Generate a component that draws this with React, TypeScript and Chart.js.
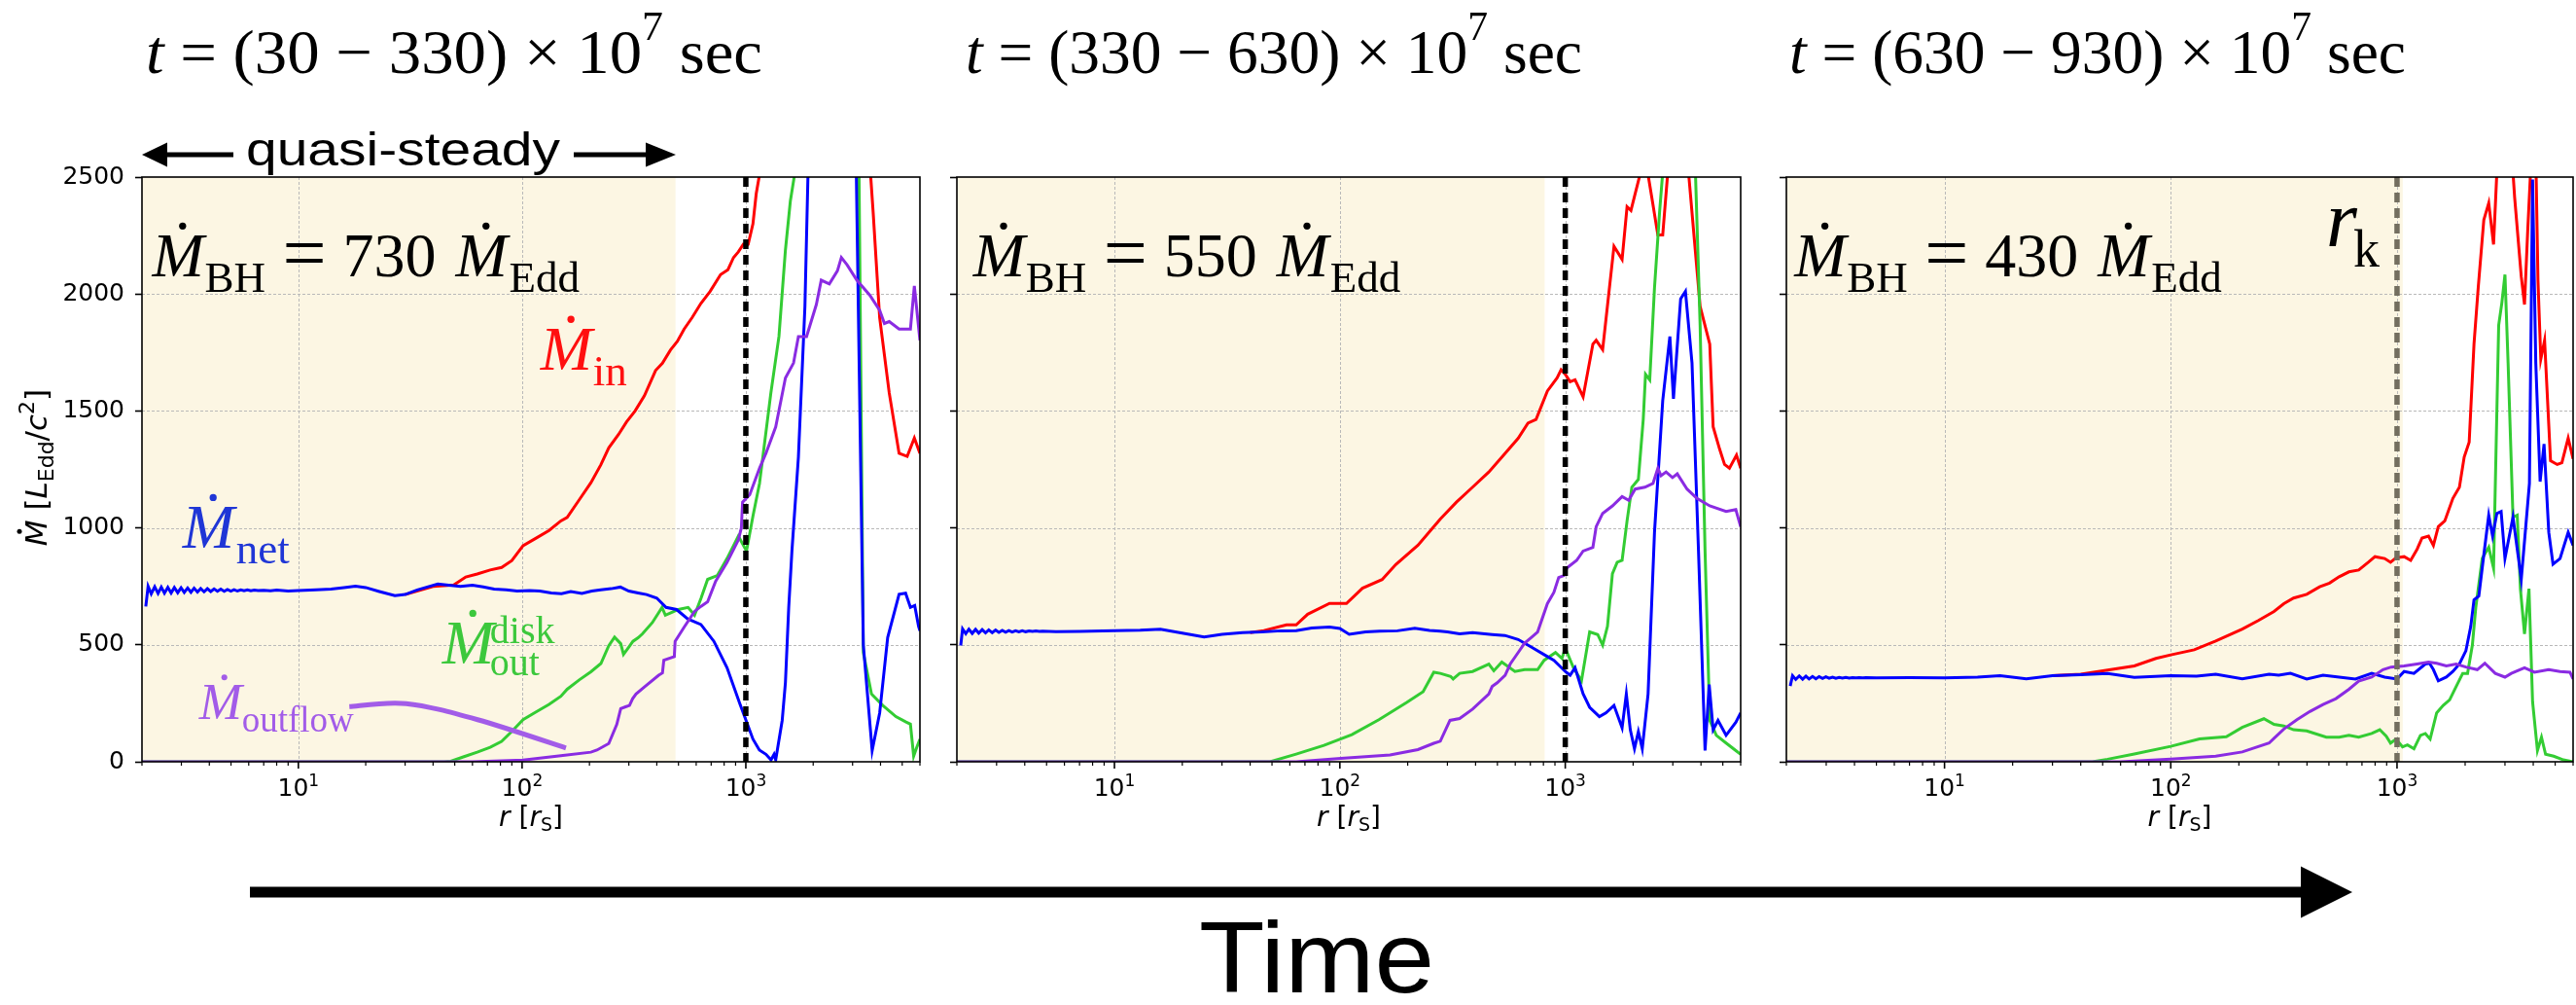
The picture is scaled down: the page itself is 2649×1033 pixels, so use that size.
import React, { useEffect, useRef } from 'react';
import { Chart, registerables } from 'chart.js';

Chart.register(...registerables);

// ---------------- data ----------------
const rMin = 2;
const rMax = 6000;
const mdotMax = 2500;
const yTickValues = [0, 500, 1000, 1500, 2000, 2500];
const yGridValues = [500, 1000, 1500, 2000];
const xGridValues = [10, 100, 1000];
const xTickValues = [2, 3, 4, 5, 6, 7, 8, 9, 10, 20, 30, 40, 50, 60, 70, 80, 90, 100, 200, 300, 400, 500, 600, 700, 800, 900, 1000, 2000, 3000, 4000, 5000, 6000];
const xMajorExponents: Record<number, string> = { 10: '1', 100: '2', 1000: '3' };

const timeRanges = [['30', '330'], ['330', '630'], ['630', '930']];
const bhRates = ['730', '550', '430'];
const quasiSteadyEnd = [485, 810, 1060];
const kRadius = 1000;

// Panel 1  t = (30-330) x 1e7 s
const p1NetR = [2.08, 2.13, 2.2, 2.28, 2.36, 2.44, 2.52, 2.61, 2.7, 2.79, 2.89, 2.99, 3.09, 3.2, 3.31, 3.42, 3.54, 3.66, 3.79, 3.92, 4.06, 4.2, 4.35, 4.5, 4.66, 4.82, 4.99, 5.16, 5.34, 5.53, 5.72, 5.92, 6.13, 6.35, 6.6, 7, 7.5, 8, 9, 10, 12, 14, 16, 18, 20, 23, 27, 30, 34, 38, 42, 47, 53, 60, 67, 75, 85, 95, 108, 120, 135, 150, 165, 185, 205, 225, 250, 275, 300, 330, 360, 400, 440, 490, 550, 630, 720, 824, 940, 1076, 1150, 1230, 1296, 1337, 1360, 1454, 1503, 1555, 1607, 1718, 1837, 1900, 2100, 2400, 2800, 3114, 3351, 3670, 3965, 4305, 4842, 5178, 5441, 5686, 5918, 6000];
const p1NetV = [664, 750, 718, 748, 720, 747, 721, 746, 722, 745, 723, 744, 724, 743, 725, 742, 726, 741, 727, 740, 728, 739, 729, 738, 729, 737, 730, 736, 730, 735, 731, 735, 731, 734, 732, 733, 731, 734, 730, 732, 735, 738, 745, 751, 745, 728, 710, 715, 735, 748, 760, 755, 750, 755, 748, 738, 735, 730, 732, 730, 722, 719, 728, 720, 730, 735, 740, 747, 730, 722, 715, 700, 660, 651, 611, 587, 515, 402, 249, 97, 50, 32, 8, 32, 8, 177, 338, 660, 901, 1303, 1947, 2550, 4200, 4800, 4800, 2550, 499, 48, 209, 531, 716, 721, 660, 668, 579, 560];
const p1InR = [30, 40, 49.5, 56, 63, 72, 81, 90, 101, 115, 132, 149, 159, 180, 203, 225, 244, 270, 293, 320, 352, 395, 424, 460, 494, 530, 576, 630, 692, 771, 832, 881, 926, 974, 1007, 1024, 1076, 1113, 1151, 1170, 1300, 1500, 2000, 2500, 3000, 3500, 3708, 3965, 4375, 4842, 5263, 5665, 6000];
const p1InV = [715, 750, 756, 790, 803, 820, 831, 860, 924, 955, 989, 1030, 1045, 1120, 1193, 1270, 1342, 1400, 1453, 1500, 1565, 1673, 1704, 1760, 1797, 1850, 1900, 1960, 2011, 2083, 2104, 2156, 2180, 2212, 2205, 2212, 2300, 2429, 2510, 2600, 3200, 3600, 4000, 4000, 3600, 2700, 2349, 1898, 1577, 1319, 1306, 1384, 1319];
const p1DiskR = [2, 45, 48, 55, 63, 72, 81, 90, 101, 115, 132, 149, 159, 180, 203, 225, 244, 259, 276, 284, 300, 313, 330, 345, 382, 422, 437, 470, 499, 552, 590, 631, 675, 745, 824, 926, 1007, 1076, 1151, 1294, 1406, 1503, 1581, 1651, 1900, 2200, 2800, 3200, 3351, 3644, 4095, 4686, 5200, 5441, 5625, 5800, 6000];
const p1DiskV = [0, 0, 2, 22, 41, 62, 87, 130, 180, 212, 245, 280, 310, 350, 385, 420, 496, 533, 505, 459, 490, 515, 530, 547, 595, 660, 627, 640, 651, 660, 627, 700, 780, 796, 869, 965, 901, 1050, 1190, 1577, 1818, 2188, 2397, 2510, 3800, 4200, 4200, 2600, 467, 290, 241, 193, 170, 161, 24, 60, 97];
const p1OutflowR = [2, 60, 101, 149, 203, 216, 244, 265, 276, 290, 302, 312, 323, 352, 408, 424, 430, 479, 483, 533, 590, 631, 675, 733, 824, 926, 955, 967, 1041, 1151, 1230, 1360, 1503, 1634, 1718, 1868, 2066, 2173, 2362, 2567, 2673, 2838, 3136, 3583, 3965, 4164, 4375, 4842, 5441, 5665, 6000];
const p1OutflowV = [0, 0, 7, 26, 41, 50, 78, 160, 227, 235, 241, 270, 290, 320, 370, 380, 434, 450, 515, 579, 643, 665, 684, 772, 853, 949, 1000, 1110, 1142, 1255, 1319, 1432, 1641, 1705, 1818, 1818, 1955, 2059, 2043, 2099, 2156, 2124, 2059, 1995, 1930, 1874, 1882, 1850, 1850, 2035, 1802];

// Panel 2  t = (330-630) x 1e7 s
const p2NetR = [2.08, 2.12, 2.19, 2.26, 2.34, 2.42, 2.5, 2.59, 2.68, 2.77, 2.87, 2.97, 3.07, 3.18, 3.29, 3.4, 3.52, 3.64, 3.77, 3.9, 4.04, 4.18, 4.33, 4.48, 4.64, 4.8, 5.5, 7, 10, 13, 16, 20, 25, 30, 37, 45, 55, 64, 75, 90, 100, 110, 130, 150, 180, 215, 250, 279, 300, 340, 388, 474, 540, 618, 706, 806, 890, 1000, 1051, 1105, 1200, 1283, 1417, 1514, 1645, 1787, 1866, 1943, 2028, 2110, 2196, 2330, 2488, 2706, 2911, 3020, 3250, 3413, 3650, 3900, 4170, 4350, 4530, 4760, 5170, 5710, 6000];
const p2NetV = [497, 568, 548, 567, 549, 566, 550, 565, 551, 564, 552, 563, 553, 562, 554, 561, 555, 560, 556, 560, 556, 559, 557, 559, 557, 558, 556, 557, 561, 563, 567, 550, 534, 545, 552, 555, 560, 561, 572, 576, 570, 545, 555, 558, 560, 571, 562, 558, 555, 547, 552, 544, 540, 523, 491, 458, 434, 386, 370, 402, 290, 233, 193, 209, 241, 145, 290, 137, 56, 129, 56, 290, 981, 1544, 1818, 1552, 1979, 2011, 1705, 901, 48, 330, 137, 177, 113, 169, 209];
const p2InR = [40, 46, 58, 64, 72, 90, 107, 126, 154, 177, 222, 279, 329, 388, 458, 541, 618, 683, 742, 833, 920, 958, 1000, 1051, 1105, 1200, 1326, 1371, 1465, 1645, 1787, 1880, 1956, 2042, 2145, 2240, 2330, 2450, 2575, 2706, 2844, 3000, 3300, 3530, 3965, 4375, 4530, 4845, 5090, 5350, 5750, 6000];
const p2InV = [552, 561, 585, 585, 631, 677, 677, 742, 779, 843, 926, 1038, 1110, 1174, 1239, 1319, 1383, 1448, 1464, 1585, 1641, 1676, 1657, 1625, 1633, 1560, 1786, 1802, 1762, 2204, 2148, 2373, 2357, 2429, 2510, 2900, 2510, 2381, 2252, 2252, 2510, 3200, 3500, 2510, 1947, 1786, 1432, 1335, 1271, 1255, 1311, 1255];
const p2DiskR = [2, 49, 64, 85, 113, 149, 198, 234, 261, 279, 310, 318, 340, 388, 458, 482, 523, 598, 660, 754, 806, 905, 967, 1000, 1087, 1180, 1283, 1393, 1465, 1539, 1619, 1700, 1787, 1880, 1974, 2110, 2218, 2270, 2370, 2488, 2620, 2706, 3000, 3500, 3780, 3965, 4170, 4375, 4680, 5170, 5710, 6000];
const p2DiskV = [0, 0, 33, 70, 116, 180, 254, 300, 383, 378, 365, 354, 378, 386, 418, 389, 426, 386, 394, 394, 434, 467, 442, 486, 402, 346, 555, 544, 499, 579, 804, 853, 861, 1030, 1174, 1207, 1464, 1657, 1633, 2027, 2349, 2520, 3800, 3800, 2520, 1866, 901, 177, 113, 80, 48, 32];
const p2OutflowR = [2, 64, 101, 167, 222, 261, 279, 308, 340, 388, 458, 474, 499, 541, 570, 618, 660, 706, 754, 833, 890, 935, 985, 1017, 1123, 1200, 1326, 1371, 1465, 1619, 1787, 1911, 2042, 2255, 2450, 2575, 2660, 2800, 2990, 3140, 3470, 3840, 4375, 5170, 5710, 6000];
const p2OutflowV = [0, 0, 15, 29, 52, 79, 88, 177, 185, 225, 290, 322, 338, 370, 418, 467, 507, 531, 555, 676, 724, 788, 796, 829, 861, 901, 917, 1005, 1062, 1094, 1134, 1118, 1166, 1174, 1190, 1255, 1223, 1239, 1215, 1231, 1166, 1126, 1094, 1070, 1078, 1005];

// Panel 3  t = (630-930) x 1e7 s
const p3NetR = [2.08, 2.13, 2.2, 2.28, 2.36, 2.44, 2.52, 2.61, 2.7, 2.79, 2.89, 2.99, 3.09, 3.2, 3.31, 3.42, 3.54, 3.66, 3.79, 3.92, 4.06, 4.2, 4.35, 4.5, 5, 7, 10, 14, 17.6, 23, 30, 40, 52.6, 69, 100, 130, 158, 207, 272, 300, 338, 399, 471, 555, 655, 773, 882, 1000, 1075, 1188, 1334, 1392, 1448, 1522, 1652, 1765, 1887, 2016, 2118, 2189, 2299, 2419, 2543, 2645, 2762, 2885, 3000, 3255, 3541, 3848, 3973, 4105, 4290, 4465, 4685, 4892, 5254, 5708, 6000];
const p3NetV = [324, 368, 352, 367, 353, 366, 354, 365, 355, 364, 356, 363, 357, 362, 357, 361, 358, 361, 358, 360, 359, 360, 359, 360, 359, 360, 359, 362, 368, 355, 368, 372, 377, 361, 368, 366, 374, 355, 374, 370, 378, 354, 370, 362, 354, 378, 362, 354, 386, 378, 418, 421, 394, 346, 362, 386, 418, 475, 579, 692, 708, 885, 1054, 965, 1062, 1070, 869, 1046, 780, 1190, 2490, 1705, 1198, 1359, 981, 845, 869, 981, 925];
const p3InR = [30, 40, 52.6, 69, 86, 100, 127, 158, 207, 244, 286, 316, 349, 399, 455, 503, 555, 613, 677, 747, 799, 882, 936, 990, 1075, 1149, 1227, 1290, 1378, 1448, 1522, 1626, 1765, 1887, 1981, 2084, 2189, 2285, 2419, 2543, 2671, 2762, 3000, 3255, 3310, 3541, 3660, 3780, 3973, 4105, 4197, 4320, 4490, 4770, 5106, 5354, 5708, 6000];
const p3InV = [368, 374, 392, 410, 442, 457, 479, 516, 567, 604, 643, 676, 700, 716, 748, 764, 791, 812, 820, 853, 877, 869, 853, 872, 877, 861, 909, 957, 965, 925, 1005, 1030, 1126, 1174, 1303, 1367, 1786, 2027, 2317, 2389, 2212, 2520, 3100, 2520, 2413, 2075, 1955, 2268, 2700, 2600, 2059, 1721, 1802, 1287, 1271, 1279, 1384, 1295];
const p3DiskR = [2, 45, 52.6, 69, 100, 134, 176, 207, 258, 286, 316, 349, 399, 487, 555, 613, 677, 773, 839, 896, 936, 990, 1058, 1112, 1188, 1269, 1334, 1401, 1497, 1600, 1708, 1826, 1951, 2050, 2153, 2229, 2380, 2543, 2671, 2814, 2907, 3000, 3097, 3255, 3398, 3510, 3660, 3830, 3973, 4175, 4350, 4535, 4925, 5440, 6000];
const p3DiskV = [0, 0, 11, 33, 66, 98, 107, 147, 184, 160, 153, 137, 132, 105, 105, 113, 105, 121, 137, 109, 80, 97, 64, 72, 56, 113, 121, 97, 209, 241, 265, 322, 378, 378, 499, 660, 869, 917, 828, 1866, 1963, 2083, 1705, 1046, 1054, 740, 547, 740, 257, 48, 105, 32, 24, 8, 0];
const p3OutflowR = [2, 60, 100, 158, 207, 272, 286, 316, 361, 412, 471, 537, 613, 677, 773, 867, 942, 1075, 1227, 1378, 1497, 1652, 1826, 2016, 2263, 2444, 2718, 3000, 3201, 3660, 4048, 4685, 5254, 5811, 6000];
const p3OutflowV = [0, 0, 11, 24, 42, 80, 100, 140, 180, 215, 245, 270, 310, 345, 362, 394, 405, 410, 418, 426, 421, 410, 418, 405, 394, 421, 378, 362, 378, 402, 383, 394, 386, 383, 354];

// annotation anchors (data coords: r, Mdot)
const bhLabelAt = [[2.22, 2075], [2.36, 2075], [2.17, 2075]];
const inLabelAt = [120.8, 1676];
const netLabelAt = [3.04, 914];
const diskLabelAt = [44, 419];
const outflowLabelAt = [3.6, 182];
const outflowArcR = [16.9, 30.3, 63.3, 157];
const outflowArcV = [236, 249, 180, 59];
const rkLabelAt = [486, 2204];

// ---------------- styling / layout ----------------
const SERIF = '"Liberation Serif", "Times New Roman", serif';
const SANS = '"DejaVu Sans", sans-serif';
const COL_IN = '#ff0000';
const COL_NET = '#0000ff';
const COL_DISK = '#33cc33';
const COL_OUTFLOW = '#8a2be2';
const AREA_TOP = 182;
const AREA_BOTTOM = 783;
const CANVAS_H = 880;
const PANELS = [
  { areaLeft: 146, areaW: 800, yW: 146, padR: 3, titleX: 150 },
  { areaLeft: 984, areaW: 806, yW: 40, padR: 3, titleX: 993 },
  { areaLeft: 1837, areaW: 810, yW: 40, padR: 2, titleX: 1840 },
];

const seriesByPanel = [
  { net: [p1NetR, p1NetV], inn: [p1InR, p1InV], disk: [p1DiskR, p1DiskV], outflow: [p1OutflowR, p1OutflowV] },
  { net: [p2NetR, p2NetV], inn: [p2InR, p2InV], disk: [p2DiskR, p2DiskV], outflow: [p2OutflowR, p2OutflowV] },
  { net: [p3NetR, p3NetV], inn: [p3InR, p3InV], disk: [p3DiskR, p3DiskV], outflow: [p3OutflowR, p3OutflowV] },
];

type Seg = { t: string; f: string; dx: number; dy: number; dot?: number[] };

function drawSegs(ctx: CanvasRenderingContext2D, segs: Seg[], x: number, y: number, color: string) {
  ctx.save();
  ctx.fillStyle = color;
  ctx.textAlign = 'left';
  ctx.textBaseline = 'alphabetic';
  for (const s of segs) {
    ctx.font = s.f;
    ctx.fillText(s.t, x + s.dx, y + s.dy);
    if (s.dot) {
      ctx.beginPath();
      ctx.arc(x + s.dx + s.dot[0], y + s.dy + s.dot[1], s.dot[2], 0, Math.PI * 2);
      ctx.fill();
    }
  }
  ctx.restore();
}

type RSeg = { t: string; f: string; dy?: number; dot?: number[] };
function richWidth(ctx: CanvasRenderingContext2D, segs: RSeg[]) {
  let w = 0;
  for (const s of segs) { ctx.font = s.f; w += ctx.measureText(s.t).width; }
  return w;
}
function drawRich(ctx: CanvasRenderingContext2D, segs: RSeg[], x: number, y: number) {
  let cx = x;
  for (const s of segs) {
    ctx.font = s.f;
    ctx.fillText(s.t, cx, y + (s.dy || 0));
    if (s.dot) {
      ctx.beginPath();
      ctx.arc(cx + s.dot[0], y + s.dot[1], s.dot[2], 0, Math.PI * 2);
      ctx.fill();
    }
    cx += ctx.measureText(s.t).width;
  }
}

const Mdot = (size: number): Seg => ({ t: 'M', f: `italic ${size}px ${SERIF}`, dx: 0, dy: 0, dot: [size * 0.49, -size * 0.81, size * 0.057] });

function bhSegs(rate: string): Seg[] {
  return [
    Mdot(64),
    { t: 'BH', f: `45px ${SERIF}`, dx: 54, dy: 16 },
    { t: '=', f: `80px ${SERIF}`, dx: 134, dy: 3 },
    { t: rate, f: `64px ${SERIF}`, dx: 196, dy: 0 },
    { ...Mdot(64), dx: 312 },
    { t: 'Edd', f: `45px ${SERIF}`, dx: 367, dy: 16 },
  ];
}

function makeDeco(idx: number) {
  return {
    id: 'deco' + idx,
    beforeDraw(chart: any) {
      const { ctx, chartArea: a, scales } = chart;
      ctx.save();
      ctx.fillStyle = '#fcf6e3';
      const xe = scales.x.getPixelForValue(quasiSteadyEnd[idx]);
      ctx.fillRect(a.left, a.top, xe - a.left, a.bottom - a.top);
      ctx.restore();
    },
    beforeDatasetsDraw(chart: any) {
      const { ctx, chartArea: a, scales } = chart;
      ctx.save();
      ctx.strokeStyle = '#b9b9b9';
      ctx.lineWidth = 1;
      ctx.setLineDash([3, 2]);
      for (const v of xGridValues) {
        const px = Math.round(scales.x.getPixelForValue(v)) + 0.5;
        ctx.beginPath(); ctx.moveTo(px, a.top); ctx.lineTo(px, a.bottom); ctx.stroke();
      }
      for (const v of yGridValues) {
        const py = Math.round(scales.y.getPixelForValue(v)) + 0.5;
        ctx.beginPath(); ctx.moveTo(a.left, py); ctx.lineTo(a.right, py); ctx.stroke();
      }
      ctx.restore();
    },
    afterDatasetsDraw(chart: any) {
      const { ctx, chartArea: a, scales } = chart;
      const X = (r: number) => scales.x.getPixelForValue(r);
      const Y = (v: number) => scales.y.getPixelForValue(v);
      // r_k dashed line
      ctx.save();
      ctx.strokeStyle = idx === 2 ? '#736e5f' : '#000000';
      ctx.lineWidth = 5.5;
      ctx.setLineDash([10, 6]);
      const kx = X(kRadius);
      ctx.beginPath(); ctx.moveTo(kx, a.top); ctx.lineTo(kx, a.bottom); ctx.stroke();
      ctx.restore();
      // spines
      ctx.save();
      ctx.strokeStyle = '#000';
      ctx.lineWidth = 1.6;
      ctx.strokeRect(a.left, a.top, a.right - a.left, a.bottom - a.top);
      ctx.restore();
      // annotations
      const [bx, bv] = bhLabelAt[idx];
      drawSegs(ctx, bhSegs(bhRates[idx]), X(bx), Y(bv), '#000');
      if (idx === 0) {
        drawSegs(ctx, [Mdot(64), { t: 'in', f: `45px ${SERIF}`, dx: 54, dy: 16 }], X(inLabelAt[0]), Y(inLabelAt[1]), '#ff1010');
        drawSegs(ctx, [Mdot(64), { t: 'net', f: `45px ${SERIF}`, dx: 55, dy: 16 }], X(netLabelAt[0]), Y(netLabelAt[1]), '#1f36d6');
        drawSegs(ctx, [Mdot(64), { t: 'disk', f: `40px ${SERIF}`, dx: 49, dy: -21 }, { t: 'out', f: `40px ${SERIF}`, dx: 49, dy: 12 }], X(diskLabelAt[0]), Y(diskLabelAt[1]), '#3cc83c');
        drawSegs(ctx, [Mdot(53), { t: 'outflow', f: `37px ${SERIF}`, dx: 44, dy: 13 }], X(outflowLabelAt[0]), Y(outflowLabelAt[1]), '#a25ce8');
        // arc
        const pts = outflowArcR.map((r, i) => [X(r), Y(outflowArcV[i])]);
        ctx.save();
        ctx.strokeStyle = '#a25ce8';
        ctx.lineWidth = 5;
        ctx.beginPath();
        ctx.moveTo(pts[0][0], pts[0][1]);
        for (let i = 0; i < pts.length - 1; i++) {
          const p0 = pts[Math.max(0, i - 1)], p1 = pts[i], p2 = pts[i + 1], p3 = pts[Math.min(pts.length - 1, i + 2)];
          ctx.bezierCurveTo(
            p1[0] + (p2[0] - p0[0]) / 6, p1[1] + (p2[1] - p0[1]) / 6,
            p2[0] - (p3[0] - p1[0]) / 6, p2[1] - (p3[1] - p1[1]) / 6,
            p2[0], p2[1]);
        }
        ctx.stroke();
        ctx.restore();
      }
      if (idx === 2) {
        drawSegs(ctx, [{ t: 'r', f: `italic 82px ${SERIF}`, dx: 0, dy: 0 }, { t: 'k', f: `54px ${SERIF}`, dx: 28, dy: 21 }], X(rkLabelAt[0]), Y(rkLabelAt[1]), '#000');
      }
    },
    afterDraw(chart: any) {
      const { ctx, chartArea: a, scales } = chart;
      ctx.save();
      ctx.strokeStyle = '#000';
      ctx.fillStyle = '#000';
      for (const v of xTickValues) {
        const major = v in xMajorExponents;
        const px = scales.x.getPixelForValue(v);
        ctx.lineWidth = major ? 1.6 : 1.2;
        ctx.beginPath(); ctx.moveTo(px, a.bottom); ctx.lineTo(px, a.bottom + (major ? 7 : 4)); ctx.stroke();
        if (major) {
          const base: RSeg[] = [
            { t: '10', f: `25px ${SANS}` },
            { t: xMajorExponents[v], f: `17px ${SANS}`, dy: -10 },
          ];
          ctx.textBaseline = 'alphabetic';
          ctx.textAlign = 'left';
          const w = richWidth(ctx, base);
          drawRich(ctx, base, px - w / 2, 818);
        }
      }
      // x axis title  r [r_S]
      ctx.textBaseline = 'alphabetic';
      ctx.textAlign = 'left';
      const xt: RSeg[] = [
        { t: 'r', f: `italic 28px ${SANS}` },
        { t: ' [', f: `28px ${SANS}` },
        { t: 'r', f: `italic 28px ${SANS}` },
        { t: 'S', f: `19px ${SANS}`, dy: 5 },
        { t: ']', f: `28px ${SANS}` },
      ];
      const w = richWidth(ctx, xt);
      drawRich(ctx, xt, (a.left + a.right) / 2 - w / 2, 849);
      if (idx === 0) {
        const yt: RSeg[] = [
          { t: 'M', f: `italic 31px ${SANS}`, dot: [15, -28, 2.5] },
          { t: ' [', f: `31px ${SANS}` },
          { t: 'L', f: `italic 31px ${SANS}` },
          { t: 'Edd', f: `22px ${SANS}`, dy: 7 },
          { t: '/', f: `31px ${SANS}` },
          { t: 'c', f: `italic 31px ${SANS}` },
          { t: '2', f: `22px ${SANS}`, dy: -13 },
          { t: ']', f: `31px ${SANS}` },
        ];
        const wy = richWidth(ctx, yt);
        ctx.translate(48, (a.top + a.bottom) / 2 - 2);
        ctx.rotate(-Math.PI / 2);
        drawRich(ctx, yt, -wy / 2, 0);
      }
      ctx.restore();
    },
  };
}

function Panel({ idx }: { idx: number }) {
  const ref = useRef<HTMLCanvasElement>(null);
  const g = PANELS[idx];
  const width = g.yW + g.areaW + g.padR;
  useEffect(() => {
    const s = seriesByPanel[idx];
    const mk = (pair: number[][], color: string, order: number) => ({
      data: pair[0].map((r, i) => ({ x: r, y: pair[1][i] })),
      borderColor: color,
      backgroundColor: color,
      borderWidth: 3,
      pointRadius: 0,
      tension: 0,
      fill: false,
      clip: 0,
      order,
    });
    const chart = new Chart(ref.current as HTMLCanvasElement, {
      type: 'line',
      data: {
        datasets: [
          mk(s.outflow, COL_OUTFLOW, 0),
          mk(s.net, COL_NET, 1),
          mk(s.disk, COL_DISK, 2),
          mk(s.inn, COL_IN, 3),
        ],
      },
      options: {
        animation: false,
        responsive: false,
        maintainAspectRatio: false,
        devicePixelRatio: 1,
        events: [],
        layout: { padding: { left: 0, right: g.padR, top: AREA_TOP, bottom: 0 } },
        plugins: { legend: { display: false }, tooltip: { enabled: false }, title: { display: false } },
        scales: {
          x: {
            type: 'logarithmic',
            min: rMin,
            max: rMax,
            afterBuildTicks: (sc: any) => { sc.ticks = xTickValues.map((v) => ({ value: v, major: v in xMajorExponents })); },
            afterFit: (sc: any) => { sc.height = CANVAS_H - AREA_BOTTOM; },
            ticks: {
              autoSkip: false, maxRotation: 0, minRotation: 0, padding: 3, color: '#000',
              font: { family: 'DejaVu Sans', size: 25 },
              callback: () => '',
            },
            grid: { drawOnChartArea: false, drawTicks: true, tickLength: 7, tickColor: 'rgba(0,0,0,0)' },
            border: { display: false },
          },
          y: {
            type: 'linear',
            min: 0,
            max: mdotMax,
            afterBuildTicks: (sc: any) => { sc.ticks = yTickValues.map((v) => ({ value: v })); },
            afterFit: (sc: any) => { sc.width = g.yW; },
            ticks: {
              padding: 11, color: '#000',
              font: { family: 'DejaVu Sans', size: 25 },
              callback: (v: any) => (idx === 0 ? String(v) : ''),
            },
            grid: { drawOnChartArea: false, drawTicks: true, tickLength: 7, tickWidth: 1.6, tickColor: '#000' },
            border: { display: false },
          },
        },
      } as any,
      plugins: [makeDeco(idx)],
    } as any);
    return () => chart.destroy();
  }, [idx]);
  return (
    <canvas
      ref={ref}
      width={width}
      height={CANVAS_H}
      style={{ position: 'absolute', left: g.areaLeft - g.yW, top: 0, width, height: CANVAS_H, display: 'block' }}
    />
  );
}

function Title({ idx }: { idx: number }) {
  const [a, b] = timeRanges[idx];
  return (
    <text x={PANELS[idx].titleX} y={75} fontFamily={SERIF} fontSize={64} textLength={634} lengthAdjust="spacingAndGlyphs" style={{ whiteSpace: 'pre' }} fill="#000">
      <tspan fontStyle="italic">t</tspan>
      <tspan>{` = (${a} − ${b}) × 10`}</tspan>
      <tspan fontSize={42} dy={-34}>7</tspan>
      <tspan dy={34}>{' sec'}</tspan>
    </text>
  );
}

export default function App() {
  return (
    <div style={{ position: 'absolute', left: 0, top: 0, width: 2649, height: 1033, background: '#fff', overflow: 'hidden' }}>
      <Panel idx={0} />
      <Panel idx={1} />
      <Panel idx={2} />
      <svg width={2649} height={1033} style={{ position: 'absolute', left: 0, top: 0, pointerEvents: 'none' }}>
        <Title idx={0} />
        <Title idx={1} />
        <Title idx={2} />
        {/* quasi-steady */}
        <text x={253} y={170} fontFamily='"Liberation Sans", Arial, sans-serif' fontSize={48} textLength={323} lengthAdjust="spacingAndGlyphs" fill="#000">quasi-steady</text>
        <line x1={170} y1={159} x2={240} y2={159} stroke="#000" strokeWidth={5} />
        <polygon points="146,159 172,146.5 172,171.5" fill="#000" />
        <line x1={590} y1={159} x2={666} y2={159} stroke="#000" strokeWidth={5} />
        <polygon points="695,159 664,146.5 664,171.5" fill="#000" />
        {/* Time arrow */}
        <line x1={257} y1={917} x2={2368} y2={917} stroke="#000" strokeWidth={11} />
        <polygon points="2419,917 2366,890.5 2366,943.5" fill="#000" />
        <text x={1354} y={1020} textAnchor="middle" fontFamily='"Liberation Sans", Arial, sans-serif' fontSize={104} textLength={242} lengthAdjust="spacingAndGlyphs" fill="#000">Time</text>
      </svg>
    </div>
  );
}
